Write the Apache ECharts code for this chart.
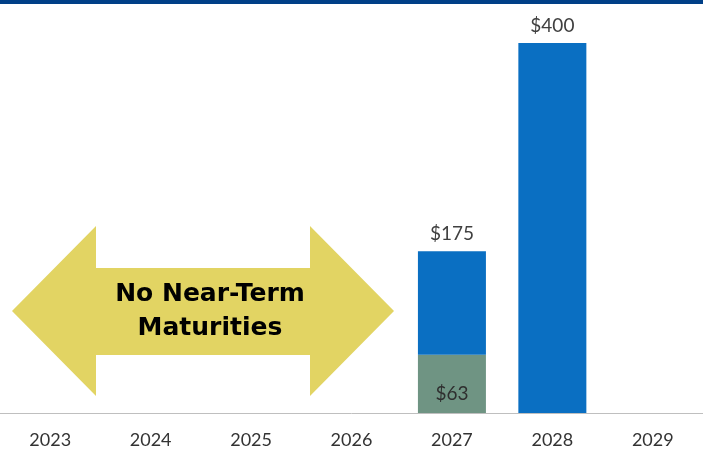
<!DOCTYPE html>
<html>
<head>
<meta charset="utf-8">
<script src="https://cdn.jsdelivr.net/npm/echarts@6/dist/echarts.min.js"></script>
<style>
  html, body { margin: 0; padding: 0; background: #fff; }
  #chart { width: 703px; height: 450px; }
</style>
</head>
<body>
<div id="chart"></div>
<script>
// Debt maturity schedule ($ millions)
const years = ['2023', '2024', '2025', '2026', '2027', '2028', '2029'];
const securedPortion = [null, null, null, null, 63, null, null];
const otherPortion = [null, null, null, null, 112, 400, null];
const maturityTotals = [null, null, null, null, 175, 400, null];

const chart = echarts.init(document.getElementById('chart'), null, { renderer: 'canvas' });

const option = {
  animation: false,
  backgroundColor: '#ffffff',
  grid: { left: -4, right: -8, top: 43, bottom: 37, containLabel: false },
  xAxis: {
    type: 'category',
    data: years,
    axisLine: { show: true, lineStyle: { color: '#bfbfbf', width: 1 } },
    axisTick: { show: false },
    axisLabel: { color: '#333333', fontSize: 18, fontFamily: 'Lato', margin: 18 }
  },
  yAxis: {
    type: 'value',
    min: 0,
    max: 400,
    show: false,
    splitLine: { show: false }
  },
  series: [
    {
      name: 'Secured',
      type: 'bar',
      stack: 'total',
      barWidth: 68,
      data: securedPortion,
      itemStyle: { color: '#6f9483' },
      label: {
        show: true,
        position: 'insideBottom',
        distance: 10,
        color: '#2f2f2f',
        fontSize: 19,
        fontFamily: 'Lato',
        formatter: p => (p.value == null ? '' : '$' + p.value)
      }
    },
    {
      name: 'Other',
      type: 'bar',
      stack: 'total',
      barWidth: 68,
      data: otherPortion,
      itemStyle: { color: '#0a6fc2' },
      label: {
        show: true,
        position: 'top',
        distance: 8,
        color: '#404040',
        fontSize: 19,
        fontFamily: 'Lato',
        formatter: p => (maturityTotals[p.dataIndex] == null ? '' : '$' + maturityTotals[p.dataIndex])
      }
    }
  ],
  graphic: [
    {
      type: 'rect',
      shape: { x: 0, y: 0, width: 703, height: 4 },
      style: { fill: '#003f87' },
      z: 10
    },
    {
      type: 'polygon',
      shape: {
        points: [
          [12, 311], [96, 226], [96, 268], [310, 268], [310, 226],
          [394, 311], [310, 396], [310, 355], [96, 355], [96, 396]
        ]
      },
      style: { fill: '#e2d463' },
      z: 5
    },
    {
      type: 'text',
      x: 210,
      y: 311,
      style: {
        text: 'No Near-Term\nMaturities',
        align: 'center',
        verticalAlign: 'middle',
        fill: '#000000',
        font: 'bold 25px "DejaVu Sans"',
        lineHeight: 34
      },
      z: 6
    }
  ]
};

chart.setOption(option);
</script>
</body>
</html>
